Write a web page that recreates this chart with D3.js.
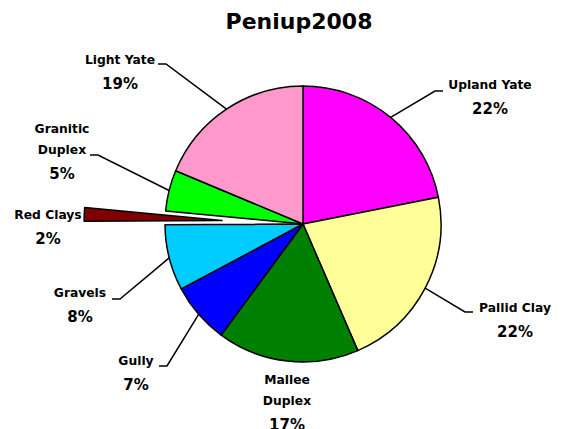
<!DOCTYPE html>
<html>
<head>
<meta charset="utf-8">
<script src="https://cdn.jsdelivr.net/npm/d3@7"></script>
<style>
  body { margin: 0; background: #fff; }
  text { font-family: "DejaVu Sans", sans-serif; font-weight: bold; fill: #000; }
</style>
</head>
<body>
<svg width="562" height="429"></svg>
<script>
// soil types, clockwise from 12 o'clock
const soils = ['Upland Yate', 'Pallid Clay', 'Mallee Duplex', 'Gully', 'Gravels', 'Red Clays', 'Granitic Duplex', 'Light Yate'];
const shares = [21.9, 21.6, 16.6, 7.1, 7.7, 1.6, 4.8, 18.7];
const colours = ['#ff00ff', '#ffff99', '#008000', '#0000ff', '#00ccff', '#800000', '#00ff00', '#ff99cc'];
const exploded = ['Red Clays'];

let svg = d3.select('svg'),
  cx = 303,
  cy = 224,
  radius = 138;

// where each label sits (first baseline) and where its leader bends
let labelLayout = {
  'Upland Yate': { x: 490, y: 89, elbow: [435, 91], dir: 1 },
  'Pallid Clay': { x: 515, y: 312, elbow: [465, 312], dir: 1 },
  'Mallee Duplex': { x: 287, y: 384, wrap: true },
  'Gully': { x: 136, y: 365, elbow: [167, 366], dir: -1 },
  'Gravels': { x: 80, y: 297, elbow: [120, 299], dir: -1 },
  'Red Clays': { x: 48, y: 219 },
  'Granitic Duplex': { x: 62, y: 133, wrap: true, elbow: [98, 155], dir: -1 },
  'Light Yate': { x: 120, y: 64, elbow: [166, 64], dir: -1 }
};

let total = d3.sum(shares);
let colour = d3.scaleOrdinal().domain(soils).range(colours);

let pie = d3.pie()
  .sort(null)
  .value(d => d.value);

let arc = d3.arc()
  .innerRadius(0)
  .outerRadius(radius);

let rim = d3.arc()
  .innerRadius(radius)
  .outerRadius(radius);

let arcs = pie(soils.map((s, i) => ({ name: s, value: shares[i] })));

svg.append('text')
  .attr('x', 299)
  .attr('y', 29)
  .attr('text-anchor', 'middle')
  .style('font-size', '22px')
  .text('Peniup2008');

let g = svg.append('g')
  .attr('transform', `translate(${cx},${cy})`);

// offset for pulled-out slices
function shift(d) {
  if (exploded.indexOf(d.data.name) < 0) return [0, 0];
  let a = (d.startAngle + d.endAngle) / 2;
  return [Math.sin(a) * 81, -Math.cos(a) * 81];
}

g.selectAll('path.slice')
  .data(arcs)
  .enter()
  .append('path')
  .attr('class', 'slice')
  .attr('d', arc)
  .attr('transform', d => `translate(${shift(d)})`)
  .attr('fill', d => colour(d.data.name))
  .attr('stroke', '#000')
  .attr('stroke-width', 1.5)
  .attr('stroke-linejoin', 'round');

// leader lines
let line = d3.line();
g.selectAll('path.leader')
  .data(arcs.filter(d => labelLayout[d.data.name].elbow))
  .enter()
  .append('path')
  .attr('class', 'leader')
  .attr('fill', 'none')
  .attr('stroke', '#000')
  .attr('stroke-width', 1.5)
  .attr('d', d => {
    let L = labelLayout[d.data.name];
    let p0 = rim.centroid(d);
    let p1 = [L.elbow[0] - cx, L.elbow[1] - cy];
    let p2 = [p1[0] + L.dir * 8, p1[1]];
    return line([p0, p1, p2]);
  });

// labels
let labels = svg.selectAll('g.label')
  .data(arcs)
  .enter()
  .append('g')
  .attr('class', 'label');

labels.each(function (d) {
  let L = labelLayout[d.data.name];
  let lines = L.wrap ? d.data.name.split(' ') : [d.data.name];
  let sel = d3.select(this);
  lines.forEach((t, k) => {
    sel.append('text')
      .attr('x', L.x)
      .attr('y', L.y + k * 20.7)
      .attr('text-anchor', 'middle')
      .style('font-size', '12.3px')
      .text(t);
  });
  sel.append('text')
    .attr('x', L.x)
    .attr('y', L.y + (lines.length - 1) * 20.7 + 25.3)
    .attr('text-anchor', 'middle')
    .style('font-size', '15px')
    .text(Math.round(d.data.value / total * 100) + '%');
});
</script>
</body>
</html>
